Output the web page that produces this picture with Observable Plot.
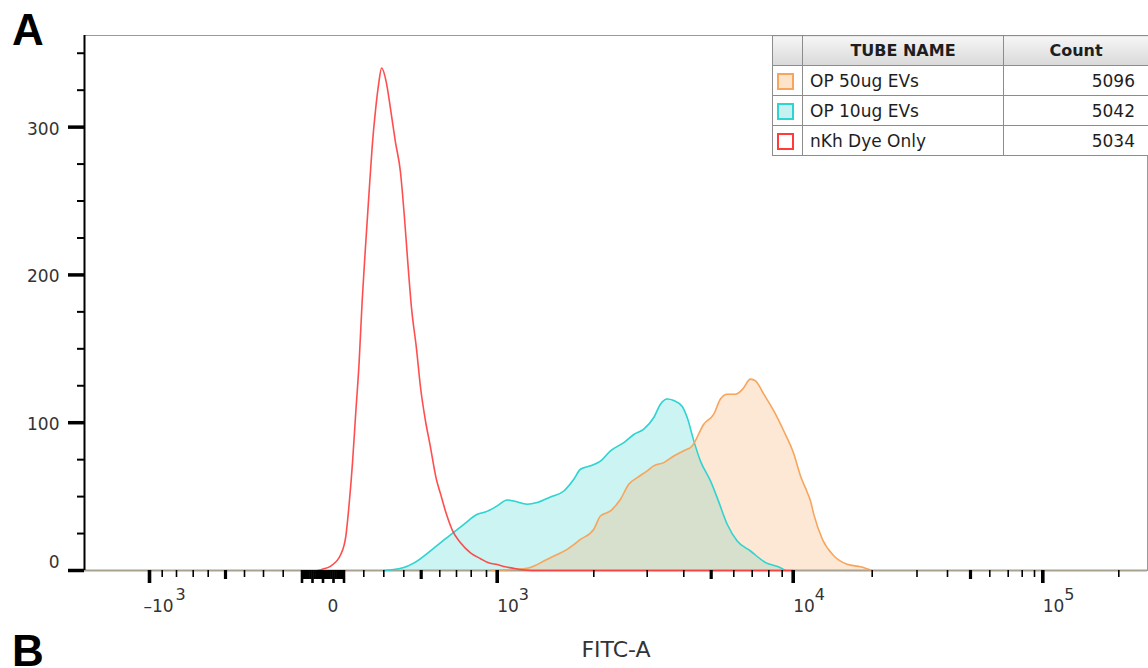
<!DOCTYPE html>
<html>
<head>
<meta charset="utf-8">
<script src="https://cdn.jsdelivr.net/npm/d3@7"></script>
<script src="https://cdn.jsdelivr.net/npm/@observablehq/plot@0.6"></script>
<style>
html, body { margin: 0; padding: 0; background: #fff; overflow: hidden; }
#wrap { position: relative; width: 1148px; height: 668px; overflow: hidden; font-family: "DejaVu Sans", sans-serif; }
#wrap svg { position: absolute; left: 0; top: 0; }
.panel { position: absolute; left: 12px; font: bold 44px/44px "Liberation Sans", Arial, sans-serif; color: #000; }
#panelB { line-height: 32px; top: 635px; }
#legend { position: absolute; left: 772px; top: 35px; width: 376px; border-collapse: collapse; table-layout: fixed; background: #fff; color: #1e1e1e; font-family: "DejaVu Sans", sans-serif; }
#legend td, #legend th { border: 1px solid #8c8c8c; height: 30px; padding: 0; box-sizing: border-box; white-space: nowrap; }
#legend th { background: linear-gradient(#f6f6f6, #d9d9d9); font-weight: bold; font-size: 16px; text-align: center; }
#legend td.name { padding-left: 7px; font-size: 17px; }
#legend td.cnt { text-align: right; padding-right: 13px; font-size: 17px; }
#legend td.sw { text-align: left; }
.swatch { display: inline-block; width: 13px; height: 13px; border: 2px solid; margin-left: 4px; vertical-align: middle; }
</style>
</head>
<body>
<div id="wrap">
  <div class="panel" style="top:8px">A</div>
  <div class="panel" id="panelB">B</div>
</div>
<script>
// ---------- data ----------
const seriesNames = ["OP 50ug EVs", "OP 10ug EVs", "nKh Dye Only"];
const seriesCounts = [5096, 5042, 5034];

// nKh Dye Only (red)
const dyeX = [-25, 0, 37, 85, 110, 126, 143, 159, 176, 192, 208, 225, 242, 259, 275, 289, 313, 334, 358, 383, 403, 422, 444, 473, 496, 522, 549, 581, 604, 640, 676, 726, 795, 861, 926, 1000, 1085, 1170, 1260, 1360, 10000];
const dyeY = [0, 1, 3, 11, 24, 45, 73, 106, 140, 183, 218, 253, 287, 312, 330, 340, 330, 312, 290, 270, 240, 210, 178, 150, 124, 102, 84, 62, 52, 38, 27, 19, 12, 8, 5, 4, 2.5, 1.5, 0.5, 0, 0];

// OP 10ug EVs (cyan)
const op10X = [300, 400, 457, 557, 641, 748, 840, 905, 1000, 1104, 1172, 1311, 1414, 1552, 1690, 1793, 1862, 1966, 2125, 2313, 2562, 2749, 2936, 3180, 3363, 3546, 3727, 3956, 4124, 4365, 4609, 4974, 5265, 5708, 6185, 6908, 7813, 8873, 9300];
const op10Y = [0, 2, 5, 14, 22, 31, 38, 40, 43.7, 47.7, 47, 44.8, 46, 49.8, 53.8, 61.7, 68.5, 70.8, 74, 81, 86.5, 92, 95.6, 103.5, 112.5, 116, 115, 111, 103.5, 87.7, 74, 60.6, 49.3, 31.3, 20, 13.2, 5.3, 1.9, 0];

// OP 50ug EVs (orange)
const op50X = [951, 1034, 1311, 1380, 1483, 1587, 1725, 1862, 2000, 2125, 2313, 2500, 2655, 2813, 3000, 3180, 3454, 3727, 4000, 4307, 4730, 5115, 5410, 5708, 6092, 6478, 6908, 7199, 7699, 8373, 9145, 10076, 10924, 11772, 12190, 12608, 13709, 15139, 16835, 18519, 20000];
const op50Y = [0, 0.3, 1.5, 3, 6.4, 9.8, 14.3, 21, 27.9, 36.9, 40.3, 48.2, 58.4, 62.8, 67.4, 70.8, 73, 77.5, 81, 84.3, 99, 105.8, 116, 119.3, 119.3, 122.7, 129.5, 128.3, 119.3, 108, 94.4, 79, 64, 53, 47, 38, 21, 10, 4.2, 2.5, 0];

// axis ticks (FITC-A, biexponential display)
const xMajorTicks = [-1000, 1000, 10000, 100000];
const xMidTicks = [-500, 500, 5000, 50000];
const xMinorTicks = [-900, -800, -700, -600, -400, -300, -200, 200, 300, 400, 600, 700, 800, 900, 2000, 3000, 4000, 6000, 7000, 8000, 9000, 20000, 30000, 40000, 60000, 70000, 80000, 90000, 200000];
const xZeroTicks = d3.range(-100, 101, 10);
const xTickLabels = [
  {v: -1000, base: "–10", exp: "3"},
  {v: 0, base: "0", exp: ""},
  {v: 1000, base: "10", exp: "3"},
  {v: 10000, base: "10", exp: "4"},
  {v: 100000, base: "10", exp: "5"}
];
const yMajorTicks = [0, 100, 200, 300];
const yMinorTicks = [25, 50, 75, 125, 150, 175, 225, 250, 275, 325, 350];

// biexponential display calibration (value -> display position)
const axisVals = [-1800, -1000, -900, -800, -700, -600, -500, -400, -300, -200, -100, 0, 100, 200, 300, 400, 500, 600, 700, 800, 900, 1000, 2000, 3000, 4000, 5000, 6000, 7000, 8000, 9000, 10000, 20000, 30000, 40000, 50000, 60000, 70000, 80000, 90000, 100000, 200000, 262144];
const axisPos = [84, 149, 161.7, 176, 192.7, 207.7, 225, 244, 263, 282.7, 301.5, 322.5, 343.5, 363.3, 383.3, 403.3, 420.7, 439.3, 456, 470.7, 486, 496.7, 593.3, 646.7, 683.3, 710.7, 733.3, 751.7, 768.3, 781.7, 792.7, 871.7, 916.5, 947, 970, 989.3, 1007.7, 1021.7, 1034, 1042.3, 1118.3, 1147];

// ---------- styles ----------
const strokeColors = ["#f7a55c", "#2fd3d0", "#ff3b3b"];
const swatchFills = ["#fde3c9", "#c6f1f0", "#ffffff"];

const toRows = (xs, ys) => xs.map((x, i) => ({x, y: ys[i]}));
const op50 = toRows(op50X, op50Y);
const op10 = toRows(op10X, op10Y);
const dye = toRows(dyeX, dyeY);

const noText = () => "";
const lab = xTickLabels;

const chart = Plot.plot({
  width: 1148,
  height: 668,
  marginLeft: 84,
  marginRight: 1,
  marginTop: 35,
  marginBottom: 98,
  style: {fontFamily: '"DejaVu Sans", sans-serif', fontSize: "17px", background: "white", color: "black", overflow: "visible"},
  x: {type: "linear", domain: axisVals, range: axisPos},
  y: {domain: [0, 362]},
  marks: [
    Plot.frame({stroke: "#9a9a9a"}),
    Plot.areaY(op10, {x: "x", y: "y", fill: strokeColors[1], fillOpacity: 0.25, curve: "monotone-x"}),
    Plot.areaY(op50, {x: "x", y: "y", fill: strokeColors[0], fillOpacity: 0.25, curve: "monotone-x"}),
    Plot.ruleY([0], {stroke: "#a8a290", strokeWidth: 2}),
    Plot.lineY(op10, {x: "x", y: "y", stroke: strokeColors[1], strokeWidth: 1.6, curve: "monotone-x"}),
    Plot.lineY(op50, {x: "x", y: "y", stroke: strokeColors[0], strokeWidth: 1.6, curve: "monotone-x"}),
    Plot.lineY(dye, {x: "x", y: "y", stroke: strokeColors[2], strokeWidth: 1.6, strokeOpacity: 0.9, curve: "monotone-x"}),
    Plot.ruleX([axisVals[0]], {stroke: "black", strokeWidth: 2}),
    // y axis
    Plot.axisY(yMajorTicks, {tickSize: 16, strokeWidth: 3.5, tickFormat: noText, label: null, stroke: "black"}),
    Plot.axisY(yMinorTicks, {tickSize: 7, strokeWidth: 2, tickFormat: noText, label: null, stroke: "black"}),
    Plot.text(yMajorTicks.filter(d => d > 0), {y: d => d, text: d => String(d), frameAnchor: "left", textAnchor: "end", dx: -25, dy: 2, fill: "#333", fontSize: 17}),
    Plot.text([0], {y: d => d, text: d => String(d), frameAnchor: "left", textAnchor: "end", dx: -25, dy: -8, fill: "#333", fontSize: 17}),
    // x axis
    Plot.axisX(xMinorTicks, {tickSize: 7, strokeWidth: 1.6, tickFormat: noText, label: null, stroke: "black"}),
    Plot.axisX(xMidTicks, {tickSize: 9, strokeWidth: 3.2, tickFormat: noText, label: null, stroke: "black"}),
    Plot.axisX(xMajorTicks, {tickSize: 13, strokeWidth: 3.6, tickFormat: noText, label: null, stroke: "black"}),
    Plot.axisX(xZeroTicks.filter(d => d % 50 !== 0), {tickSize: 9, strokeWidth: 2.6, tickFormat: noText, label: null, stroke: "black"}),
    Plot.axisX(xZeroTicks.filter(d => d % 50 === 0), {tickSize: 13, strokeWidth: 2.6, tickFormat: noText, label: null, stroke: "black"}),
    Plot.text(lab.filter(d => d.base === "10"), {x: "v", text: "base", frameAnchor: "bottom", textAnchor: "start", dy: 41, fill: "#333", fontSize: 17}),
    Plot.text(lab.filter(d => d.base === "10"), {x: "v", text: "exp", frameAnchor: "bottom", textAnchor: "start", dx: 21.5, dy: 29, fill: "#333", fontSize: 16}),
    Plot.text(lab.filter(d => d.base === "–10"), {x: "v", text: "base", frameAnchor: "bottom", textAnchor: "start", dx: -6, dy: 41, fill: "#333", fontSize: 17}),
    Plot.text(lab.filter(d => d.base === "–10"), {x: "v", text: "exp", frameAnchor: "bottom", textAnchor: "start", dx: 26, dy: 29, fill: "#333", fontSize: 16}),
    Plot.text(lab.filter(d => d.base === "0"), {x: "v", text: "base", frameAnchor: "bottom", textAnchor: "start", dx: 4.5, dy: 41, fill: "#333", fontSize: 17}),
    Plot.text(["FITC-A"], {text: d => d, frameAnchor: "bottom", dy: 86, fill: "#333", fontSize: 22})
  ]
});

const wrap = document.getElementById("wrap");
wrap.insertBefore(chart, wrap.firstChild);

// legend table
const table = document.createElement("table");
table.id = "legend";
table.innerHTML = '<colgroup><col style="width:30px"><col style="width:201px"><col style="width:145px"></colgroup>' +
  '<tr><th></th><th>TUBE NAME</th><th>Count</th></tr>' +
  seriesNames.map((n, i) => `<tr><td class="sw"><span class="swatch" style="border-color:${strokeColors[i]};background:${swatchFills[i]}"></span></td><td class="name">${n}</td><td class="cnt">${seriesCounts[i]}</td></tr>`).join("");
wrap.appendChild(table);
</script>
</body>
</html>
